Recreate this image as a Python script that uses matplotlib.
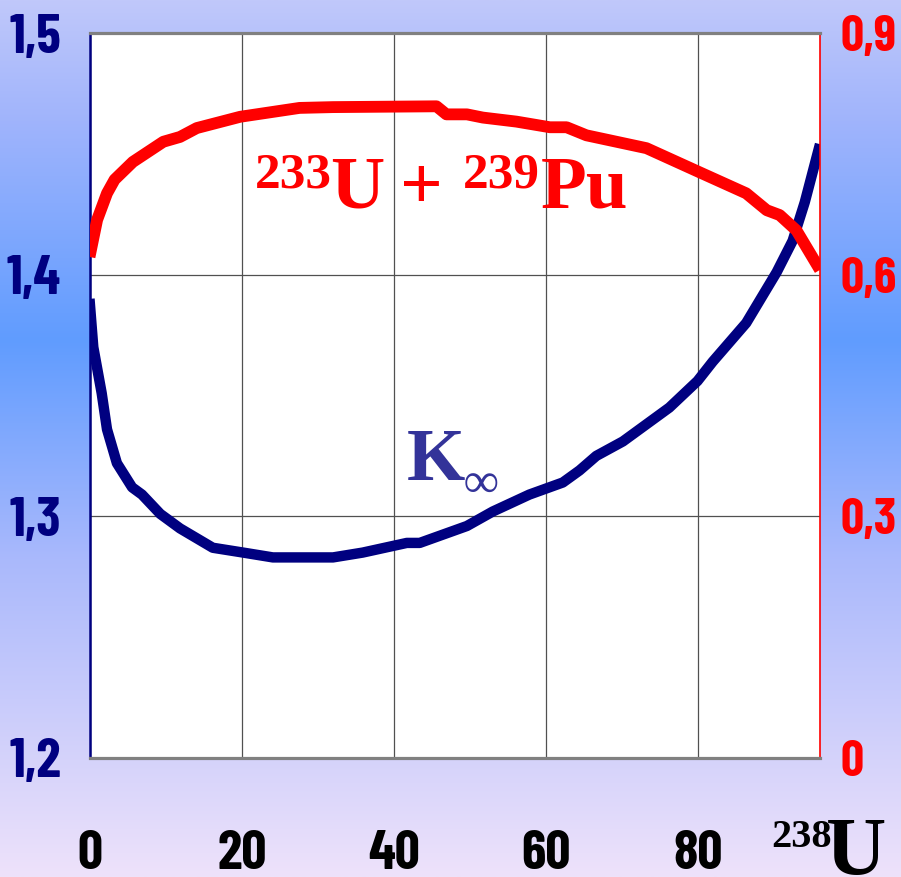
import numpy as np
import matplotlib
matplotlib.use("Agg")
import matplotlib.pyplot as plt
from matplotlib.ticker import FixedLocator, FixedFormatter
from matplotlib import font_manager as fm
from matplotlib.textpath import TextPath
from matplotlib.font_manager import FontProperties

# ---- data ----
u238_k = [0, 0.5, 1.6, 2.3, 3.6, 5.6, 6.9, 9.3, 11.9, 16.2, 20.2, 24.1, 32.0, 35.9,
          41.7, 43.4, 49.6, 53.0, 57.8, 62.2, 64.4, 66.6, 70.1, 76.2, 79.9, 81.9,
          86.3, 90.3, 92.4, 94.0, 96.0]
k_inf = [1.390, 1.370, 1.351, 1.336, 1.322, 1.312, 1.309, 1.301, 1.295, 1.287, 1.285,
         1.283, 1.283, 1.285, 1.289, 1.289, 1.296, 1.302, 1.309, 1.314, 1.319, 1.325,
         1.331, 1.345, 1.356, 1.364, 1.380, 1.401, 1.414, 1.430, 1.454]

u238_f = [0, 1.0, 2.3, 3.3, 5.7, 9.7, 11.9, 14.1, 19.8, 27.6, 32.0, 45.6, 46.9, 49.6,
          51.7, 56.1, 60.5, 62.7, 65.3, 73.2, 80.2, 86.3, 89.0, 90.7, 92.9, 96.0]
fissile = [0.622, 0.668, 0.701, 0.718, 0.740, 0.765, 0.771, 0.782, 0.796, 0.807, 0.808,
           0.809, 0.799, 0.799, 0.795, 0.790, 0.783, 0.783, 0.773, 0.757, 0.727, 0.701,
           0.680, 0.674, 0.655, 0.606]

x_ticks = [0, 20, 40, 60, 80]
x_labels = ['0', '20', '40', '60', '80']
left_ticks = [1.2, 1.3, 1.4, 1.5]
left_labels = ['1,2', '1,3', '1,4', '1,5']
right_ticks = [0, 0.3, 0.6, 0.9]
right_labels = ['0', '0,3', '0,6', '0,9']

NAVY = '#000080'
RED = '#ff0000'

# pick a bold condensed sans face
bold_names = {f.name for f in fm.fontManager.ttflist if f.weight in (700, 'bold', 800, 900)}
cands = ['Antonio', 'Barlow Condensed', 'Roboto Condensed', 'Archivo Narrow',
         'PT Sans Narrow', 'Liberation Sans Narrow', 'Saira Condensed',
         'Sofia Sans Condensed', 'Encode Sans Condensed', 'Asap Condensed',
         'IBM Plex Sans Condensed', 'Oswald', 'Liberation Sans']
tick_family = next((c for c in cands if c in bold_names), 'DejaVu Sans')

# size chosen so the digit ink height is about 40 px (at 100 dpi)
probe = TextPath((0, 0), '0', size=100,
                 prop=FontProperties(family=tick_family, weight='bold'))
ink_h = probe.get_extents().height / 100.0
tick_size = (40 * 0.72) / ink_h
tick_font = dict(family=[tick_family, 'DejaVu Sans'], weight='bold', size=tick_size)
right_font = dict(tick_font, size=tick_size * 0.92)
serif = ['Liberation Serif', 'DejaVu Serif']

fig = plt.figure(figsize=(9.01, 8.77), dpi=100)
W, H = 901.0, 877.0


def fx(px):
    return px / W


def fy(py):
    return 1 - py / H


# background gradient
bg = fig.add_axes([0, 0, 1, 1], zorder=-10)
rows = np.linspace(0, 877, 400)
stops_y = [0, 120, 340, 560, 877]
cols = np.array([[192, 200, 250], [160, 180, 252], [96, 156, 255],
                 [170, 185, 252], [238, 226, 250]]) / 255.0
grad = np.stack([np.interp(rows, stops_y, cols[:, i]) for i in range(3)], axis=-1)
bg.imshow(grad[:, None, :], aspect='auto', extent=[0, 1, 0, 1])
bg.axis('off')

ax = fig.add_axes([fx(89.5), fy(758), 730.5 / W, 725 / H])
ax.set_facecolor('white')
ax.set_xlim(0, 96)
ax.set_ylim(1.2, 1.5)

ax.xaxis.set_major_locator(FixedLocator(x_ticks))
ax.xaxis.set_major_formatter(FixedFormatter(x_labels))
ax.yaxis.set_major_locator(FixedLocator(left_ticks))
ax.yaxis.set_major_formatter(FixedFormatter(left_labels))
ax.grid(True, color='#505050', lw=0.9)
ax.set_axisbelow(True)
ax.tick_params(axis='both', length=0)
ax.tick_params(axis='y', pad=20.5, labelcolor=NAVY)
ax.tick_params(axis='x', pad=51.5, labelcolor='black')
for lab in ax.get_xticklabels() + ax.get_yticklabels():
    lab.set(**tick_font)

ax.spines['top'].set(color='#808080', lw=2.3)
ax.spines['bottom'].set(color='#808080', lw=2.3)
ax.spines['left'].set(color=NAVY, lw=1.8)
ax.spines['right'].set(color=RED, lw=1.2)

ax.plot(u238_k, k_inf, color=NAVY, lw=7.5, solid_capstyle='butt', solid_joinstyle='round')

ax2 = ax.twinx()
ax2.set_ylim(0, 0.9)
ax2.yaxis.set_major_locator(FixedLocator(right_ticks))
ax2.yaxis.set_major_formatter(FixedFormatter(right_labels))
ax2.tick_params(axis='y', length=0, pad=15, labelcolor=RED)
for lab in ax2.get_yticklabels():
    lab.set(**right_font)
for s in ax2.spines.values():
    s.set_visible(False)
ax2.plot(u238_f, fissile, color=RED, lw=8.5, solid_capstyle='butt', solid_joinstyle='round')

# curve labels, composed of pieces
sb = dict(family=serif, weight='bold', ha='left', va='baseline')
fig.text(fx(255), fy(187), '233', color=RED, size=37, **sb)
fig.text(fx(330), fy(208), 'U', color=RED, size=54, **sb)
fig.text(fx(400), fy(208), '+', color=RED, size=54, **sb)
fig.text(fx(463), fy(187), '239', color=RED, size=37, **sb)
fig.text(fx(541), fy(208), 'Pu', color=RED, size=54, **sb)

fig.text(fx(407), fy(480), 'K', color='#333399', size=54, **sb)
fig.text(fx(464), fy(485), '\u221e', color='#333399', size=35, family=serif,
         weight='bold', ha='left', va='center')

fig.text(fx(771), fy(847), '238', color='black', size=29, **sb)
fig.text(fx(826), fy(874), 'U', color='black', size=60, **sb)

fig.savefig('out.png', dpi=100)
